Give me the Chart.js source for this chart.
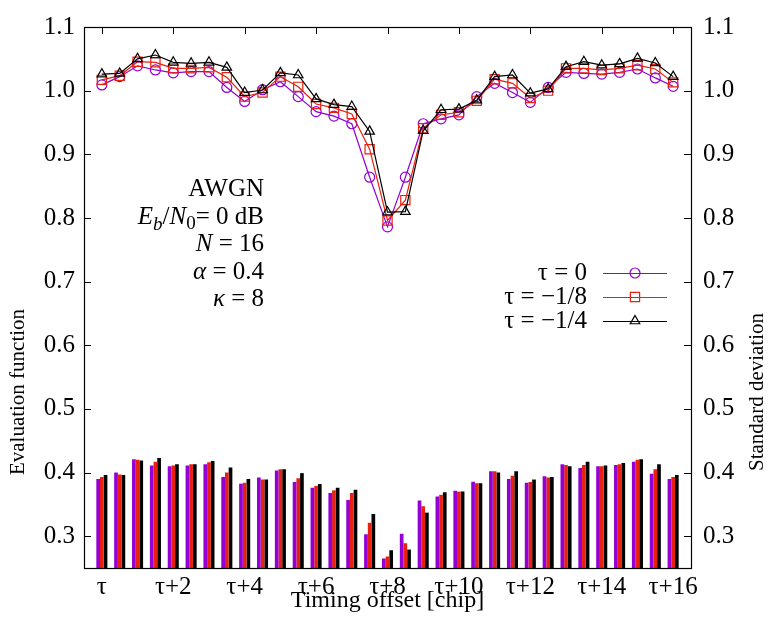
<!DOCTYPE html>
<html><head><meta charset="utf-8">
<script src="https://cdn.jsdelivr.net/npm/chart.js@4.4.0/dist/chart.umd.min.js"></script>
<style>html,body{margin:0;padding:0;background:#fff}</style>
</head><body>
<canvas id="c" width="773" height="617"></canvas>
<script>
// Timing offsets (chip units relative to tau)
const offsets = [0,0.5,1,1.5,2,2.5,3,3.5,4,4.5,5,5.5,6,6.5,7,7.5,8,8.5,9,9.5,10,10.5,11,11.5,12,12.5,13,13.5,14,14.5,15,15.5,16];
const xTickValues = [0,2,4,6,8,10,12,14,16];
const xTickLabels = ['τ','τ+2','τ+4','τ+6','τ+8','τ+10','τ+12','τ+14','τ+16'];
const yTickValues = [0.3,0.4,0.5,0.6,0.7,0.8,0.9,1.0,1.1];
const seriesLabels = ['τ = 0','τ = −1/8','τ = −1/4'];

// Evaluation function (lines)
const evalTau0  = [1.009,1.022,1.039,1.0325,1.028,1.030,1.030,1.005,0.983,1.0015,1.014,0.9906,0.967,0.960,0.948,0.864,0.786,0.864,0.948,0.9556,0.962,0.9906,1.0115,0.997,0.9816,1.005,1.0287,1.027,1.026,1.0287,1.034,1.020,1.0068];
const evalTau8  = [1.017,1.0235,1.0455,1.0445,1.035,1.035,1.0366,1.021,0.9906,0.997,1.022,1.006,0.979,0.973,0.9634,0.908,0.796,0.828,0.941,0.962,0.966,0.984,1.018,1.0115,0.9885,1.000,1.035,1.035,1.0325,1.035,1.040,1.034,1.013];
const evalTau4  = [1.026,1.027,1.050,1.056,1.0445,1.043,1.0445,1.0366,0.997,1.001,1.028,1.0246,0.987,0.978,0.975,0.936,0.809,0.810,0.937,0.970,0.971,0.985,1.022,1.0246,0.996,1.0027,1.0377,1.0455,1.040,1.042,1.0507,1.0435,1.022];

// Standard deviation (bars)
const stdTau0 = [0.390,0.400,0.421,0.411,0.410,0.411,0.413,0.393,0.3825,0.392,0.403,0.385,0.376,0.368,0.357,0.303,0.265,0.304,0.356,0.3625,0.3715,0.3855,0.402,0.390,0.384,0.394,0.413,0.407,0.410,0.412,0.417,0.398,0.390];
const stdTau8 = [0.393,0.397,0.420,0.417,0.411,0.413,0.416,0.400,0.384,0.389,0.405,0.391,0.379,0.372,0.368,0.321,0.268,0.289,0.347,0.365,0.370,0.383,0.402,0.395,0.385,0.392,0.412,0.412,0.410,0.413,0.420,0.405,0.393];
const stdTau4 = [0.396,0.396,0.419,0.423,0.413,0.413,0.418,0.408,0.390,0.389,0.405,0.399,0.382,0.376,0.373,0.335,0.278,0.279,0.337,0.369,0.370,0.383,0.400,0.402,0.389,0.393,0.410,0.417,0.411,0.415,0.421,0.413,0.396];

const PURPLE = '#9400d3', RED = '#e8200f', BLACK = '#000000';
const FONT = "'Liberation Serif', 'Times New Roman', serif";

const pts = arr => arr.map((v, i) => ({x: offsets[i], y: v}));

function lineDs(label, data, color, style, radius, order) {
  return {type:'line', label, data: pts(data), yAxisID:'y', borderColor: color, borderWidth: 1.2,
    backgroundColor:'rgba(0,0,0,0)', pointStyle: style, pointRadius: radius, pointHoverRadius: radius,
    pointBorderColor: color, pointBackgroundColor:'rgba(0,0,0,0)', pointBorderWidth: 1.2, tension: 0, order};
}
function barDs(label, data, color) {
  return {type:'bar', label, data: pts(data), yAxisID:'y2', backgroundColor: color, borderWidth: 0,
    barPercentage: 1.0, categoryPercentage: 0.62, order: 10};
}

function richRight(ctx, segs, xRight, y, size) {
  const fontFor = s => (s.includes('i') ? 'italic ' : '') + Math.round(s.includes('sub') ? size*0.75 : size) + 'px ' + FONT;
  let total = 0;
  segs.forEach(([t, s]) => { ctx.font = fontFor(s); total += ctx.measureText(t).width; });
  let x = xRight - total;
  ctx.textAlign = 'left'; ctx.textBaseline = 'middle'; ctx.fillStyle = '#000';
  segs.forEach(([t, s]) => { ctx.font = fontFor(s); ctx.fillText(t, x, y + (s.includes('sub') ? size*0.3 : 0)); x += ctx.measureText(t).width; });
}

const decor = {
  id: 'decor',
  beforeDatasetsDraw(chart) {
    const {ctx, chartArea: a, scales} = chart;
    ctx.save(); ctx.strokeStyle = '#000'; ctx.lineWidth = 1;
    ctx.beginPath();
    yTickValues.forEach(v => {
      const y = Math.round(scales.y.getPixelForValue(v)) + 0.5;
      ctx.moveTo(a.left, y); ctx.lineTo(a.left + 7, y);
      ctx.moveTo(a.right, y); ctx.lineTo(a.right - 7, y);
    });
    xTickValues.forEach(v => {
      const x = Math.round(scales.x.getPixelForValue(v)) + 0.5;
      ctx.moveTo(x, a.top); ctx.lineTo(x, a.top + 7);
      ctx.moveTo(x, a.bottom); ctx.lineTo(x, a.bottom - 7);
    });
    ctx.stroke(); ctx.restore();
  },
  afterDraw(chart) {
    const {ctx, chartArea: a} = chart;
    ctx.save();
    ctx.strokeStyle = '#000'; ctx.lineWidth = 1.2;
    ctx.strokeRect(Math.round(a.left) + 0.5, Math.round(a.top) + 0.5, Math.round(a.right - a.left), Math.round(a.bottom - a.top));
    // axis titles
    ctx.fillStyle = '#000'; ctx.font = '21px ' + FONT; ctx.textAlign = 'center'; ctx.textBaseline = 'middle';
    ctx.save(); ctx.translate(18, 392); ctx.rotate(-Math.PI/2); ctx.fillText('Evaluation function', 0, 0); ctx.restore();
    ctx.save(); ctx.translate(757, 392); ctx.rotate(-Math.PI/2); ctx.fillText('Standard deviation', 0, 0); ctx.restore();
    // annotation
    const S = 25, xr = 264;
    richRight(ctx, [['AWGN','']], xr, 189, S);
    richRight(ctx, [['E','i'],['b','isub'],['/',''],['N','i'],['0','sub'],['= 0 dB','']], xr, 217, S);
    richRight(ctx, [['N','i'],[' = 16','']], xr, 244.5, S);
    richRight(ctx, [['α','i'],[' = 0.4','']], xr, 272, S);
    richRight(ctx, [['κ','i'],[' = 8','']], xr, 299.5, S);
    // legend
    const rows = [273, 297, 321];
    const styles = [['circle', PURPLE, 5], ['rect', RED, 6.5], ['triangle', BLACK, 5.5]];
    rows.forEach((y, k) => {
      richRight(ctx, [[seriesLabels[k], '']], 587, y, S);
      ctx.strokeStyle = styles[k][1]; ctx.fillStyle = 'rgba(0,0,0,0)'; ctx.lineWidth = 1.2;
      ctx.beginPath(); ctx.moveTo(603, y + 0.5); ctx.lineTo(667, y + 0.5); ctx.stroke();
      Chart.helpers.drawPoint(ctx, {pointStyle: styles[k][0], radius: styles[k][2], borderWidth: 1.2}, 635, y);
    });
    ctx.restore();
  }
};

new Chart(document.getElementById('c'), {
  data: {
    datasets: [
      lineDs(seriesLabels[0], evalTau0, PURPLE, 'circle', 5, 3),
      lineDs(seriesLabels[1], evalTau8, RED, 'rect', 6.5, 2),
      lineDs(seriesLabels[2], evalTau4, BLACK, 'triangle', 5.5, 1),
      barDs(seriesLabels[0], stdTau0, PURPLE),
      barDs(seriesLabels[1], stdTau8, RED),
      barDs(seriesLabels[2], stdTau4, BLACK)
    ]
  },
  options: {
    responsive: false, devicePixelRatio: 1, animation: false,
    layout: {padding: {top: 26, left: 0, right: 0, bottom: 0}},
    plugins: {legend: {display: false}, tooltip: {enabled: false}},
    scales: {
      x: {type: 'linear', position: 'bottom', min: -0.5, max: 16.5, offset: false,
        grid: {display: false, drawTicks: false}, border: {display: false},
        afterBuildTicks: s => { s.ticks = xTickValues.map(v => ({value: v})); },
        ticks: {autoSkip: false, maxRotation: 0, padding: 4, color: '#000', font: {family: FONT, size: 25},
          callback: v => xTickLabels[xTickValues.indexOf(v)]},
        title: {display: true, text: 'Timing offset [chip]', color: '#000', font: {family: FONT, size: 24}, padding: {top: 0, bottom: 2}},
        afterFit: s => { s.height = 49; }
      },
      y: {type: 'linear', position: 'left', min: 0.25, max: 1.1,
        grid: {display: false, drawTicks: false}, border: {display: false},
        afterBuildTicks: s => { s.ticks = yTickValues.map(v => ({value: v})); },
        ticks: {padding: 9, color: '#000', font: {family: FONT, size: 25}, callback: v => v.toFixed(1)},
        afterFit: s => { s.width = 84; }
      },
      y2: {type: 'linear', position: 'right', min: 0.25, max: 1.1,
        grid: {display: false, drawTicks: false}, border: {display: false},
        afterBuildTicks: s => { s.ticks = yTickValues.map(v => ({value: v})); },
        ticks: {padding: 12, color: '#000', font: {family: FONT, size: 25}, callback: v => v.toFixed(1)},
        afterFit: s => { s.width = 82; }
      }
    }
  },
  plugins: [decor]
});
</script>
</body></html>
